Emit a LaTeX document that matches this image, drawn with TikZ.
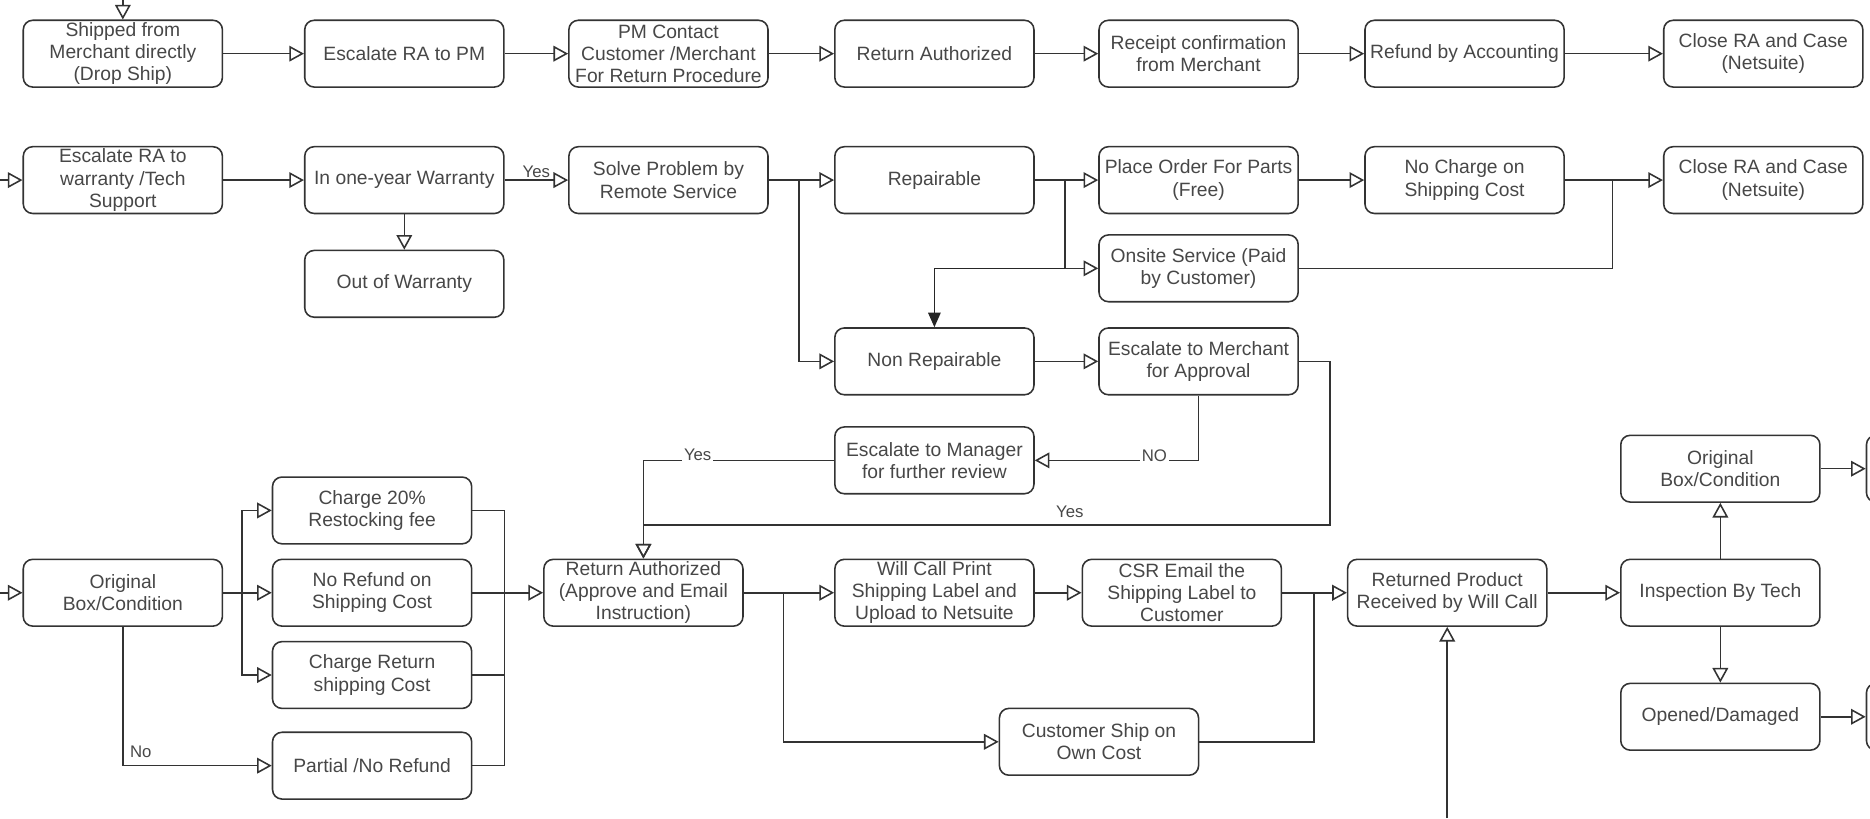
\documentclass[tikz,border=0pt]{standalone}
\usepackage{fontspec}
\setmainfont{Liberation Sans}
\usetikzlibrary{arrows.meta}

\tikzstyle{box}=[draw=black!80, line width=0.75pt, rounded corners=4.5pt, minimum width=3.34cm, minimum height=1.12cm, inner sep=0pt, align=center, text=black!72, font=\fontsize{9.2}{10.6}\selectfont]
\tikzstyle{flow}=[draw=black!80, line width=0.75pt, -{Triangle[open,length=7pt,width=7.5pt]}]
\tikzstyle{link}=[draw=black!80, line width=0.75pt, -]
\tikzstyle{push}=[draw=black!85, line width=0.75pt, -{Triangle[length=7pt,width=6pt]}]
\tikzstyle{tag}=[text=black!72, font=\fontsize{8}{9}\selectfont, inner sep=1pt]

\begin{document}
\begin{tikzpicture}[x=0.02cm, y=-0.02cm]
\useasboundingbox (0,0) rectangle (1568,686);
\clip (0,0) rectangle (1568,686);

% drop ship row
\node[box] (ship) at (103,45) {Shipped from\\Merchant directly\\(Drop Ship)};
\node[box] (escpm) at (339,45) {Escalate RA to PM};
\node[box] (pmc) at (560.5,45) {PM Contact\\Customer /Merchant\\For Return Procedure};
\node[box] (ra) at (783.5,45) {Return Authorized};
\node[box] (rcpt) at (1005,45) {Receipt confirmation\\from Merchant};
\node[box] (refund) at (1228,45) {Refund by Accounting};
\node[box] (close1) at (1478.5,45) {Close RA and Case\\(Netsuite)};

% warranty row
\node[box] (escw) at (103,151) {Escalate RA to\\warranty /Tech\\Support};
\node[box] (warr) at (339,151) {In one-year Warranty};
\node[box] (oow) at (339,238) {Out of Warranty};
\node[box] (remote) at (560.5,151) {Solve Problem by\\Remote Service};
\node[box] (repair) at (783.5,151) {Repairable};
\node[box] (parts) at (1005,151) {Place Order For Parts\\(Free)};
\node[box] (nocharge) at (1228,151) {No Charge on\\Shipping Cost};
\node[box] (close2) at (1478.5,151) {Close RA and Case\\(Netsuite)};
\node[box] (onsite) at (1005,225) {Onsite Service (Paid\\by Customer)};
\node[box] (nonrep) at (783.5,303) {Non Repairable};
\node[box] (escm) at (1005,303) {Escalate to Merchant\\for Approval};
\node[box] (escmgr) at (783.5,386) {Escalate to Manager\\for further review};

% return row
\node[box] (orig1) at (103,497) {Original\\Box/Condition};
\node[box] (charge20) at (312,428) {Charge 20\%\\Restocking fee};
\node[box] (norefund) at (312,497) {No Refund on\\Shipping Cost};
\node[box] (chret) at (312,566) {Charge Return\\shipping Cost};
\node[box] (partial) at (312,642) {Partial /No Refund};
\node[box] (ra2) at (539.5,497) {Return Authorized\\(Approve and Email\\Instruction)};
\node[box] (willcall) at (783.5,497) {Will Call Print\\Shipping Label and\\Upload to Netsuite};
\node[box] (csr) at (991,497) {CSR Email the\\Shipping Label to\\Customer};
\node[box] (custship) at (921.5,622) {Customer Ship on\\Own Cost};
\node[box] (recv) at (1213.5,497) {Returned Product\\Received by Will Call};
\node[box] (insp) at (1442.5,497) {Inspection By Tech};
\node[box] (orig2) at (1442.5,393) {Original\\Box/Condition};
\node[box] (opened) at (1442.5,601) {Opened/Damaged};
\node[box] (cuta) at (1648.5,393) {};
\node[box] (cutb) at (1648.5,601) {};

% free ends and junctions
\coordinate (topin) at (103,0);
\coordinate (leftin1) at (0,151);
\coordinate (leftin2) at (0,497);
\coordinate (botin) at (1213.5,686);
\coordinate (j1) at (670,151);
\coordinate (j2) at (893,151);
\coordinate (j2b) at (893,225);
\coordinate (j3) at (1352,151);
\coordinate (k1) at (1115,440);
\coordinate (j4) at (203,497);
\coordinate (m1) at (423,642);
\coordinate (j6) at (657,497);
\coordinate (j7) at (1102,497);

\foreach \source/\sink in {topin/ship, ship/escpm, escpm/pmc, pmc/ra, ra/rcpt, rcpt/refund, refund/close1, leftin1/escw, escw/warr, warr/oow, remote/repair, repair/parts, parts/nocharge, nocharge/close2, nonrep/escm, leftin2/orig1, orig1/norefund, norefund/ra2, ra2/willcall, willcall/csr, csr/recv, botin/recv, recv/insp, insp/orig2, insp/opened, orig2/cuta, opened/cutb} {
    \path[flow] (\source) -- (\sink);
}

\path[flow] (warr) -- node[tag, above, pos=0.5] {Yes} (remote);
\path[flow] (j1) |- (nonrep.west);
\path[flow] (j2) |- (onsite.west);
\path[push] (j2b) -| (nonrep.north);
\path[link] (onsite.east) -| (j3);
\path[flow] (escm.south) |- (escmgr.east);
\node[tag, fill=white] (no1) at (968,382) {NO};
\path[flow] (escm.east) -| (k1) -| (ra2.north);
\node[tag] (yes2) at (897,429) {Yes};
\path[flow] (escmgr.west) -| (ra2.north);
\node[tag, fill=white] (yes3) at (585,381) {Yes};

\path[flow] (j4) |- (charge20.west);
\path[flow] (j4) |- (chret.west);
\path[flow] (orig1.south) |- (partial.west);
\node[tag] (no2) at (118,630) {No};
\path[link] (charge20.east) -| (m1) -- (partial.east);
\path[link] (chret.east) -- (chret.east -| m1);

\path[flow] (j6) |- (custship.west);
\path[link] (custship.east) -| (j7);
\end{tikzpicture}
\end{document}
